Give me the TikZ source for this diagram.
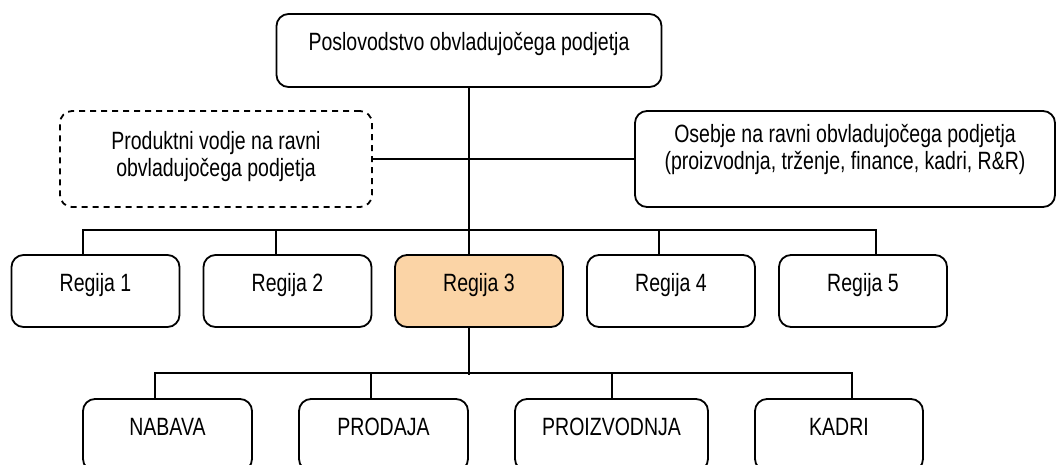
\documentclass[tikz,border=0pt]{standalone}
\usepackage{fontspec}
\newfontfamily\boxfont[FakeStretch=0.78]{Liberation Sans}
\definecolor{hilite}{RGB}{251,212,166}
\begin{document}
\begin{tikzpicture}[x=1pt,y=-1pt,
  box/.style={draw, line width=1.8pt, rounded corners=12pt, inner sep=0pt,
    font=\boxfont\fontsize{25}{27}\selectfont, text height=36pt},
  dashbox/.style={box, dash pattern=on 6pt off 5pt},
  wire/.style={line width=1.7pt}]
\useasboundingbox (0,0) rectangle (1057,464);
\clip (0,0) rectangle (1057,464);

% management of the holding company
\node[box, minimum width=385pt, minimum height=73pt, text depth=37pt]
  (top) at (469,50.5) {Poslovodstvo obvladujočega podjetja};

% staff boxes at the holding level
\node[dashbox, minimum width=312pt, minimum height=96pt, text height=38pt, text depth=58pt]
  (pm) at (216,159)
  {\begin{tabular}[t]{@{}c@{}}Produktni vodje na ravni\\obvladujočega podjetja\end{tabular}};
\node[box, minimum width=420pt, minimum height=96pt, text height=31pt, text depth=65pt]
  (staff) at (845,159)
  {\begin{tabular}[t]{@{}c@{}}Osebje na ravni obvladujočega podjetja\\(proizvodnja, trženje, finance, kadri, R\&R)\end{tabular}};

% regions
\node[box, minimum width=168pt, minimum height=72pt, text depth=36pt] (r1) at (95.5,291) {Regija 1};
\node[box, minimum width=168pt, minimum height=72pt, text depth=36pt] (r2) at (287.5,291) {Regija 2};
\node[box, minimum width=168pt, minimum height=72pt, text depth=36pt, fill=hilite] (r3) at (479,291) {Regija 3};
\node[box, minimum width=168pt, minimum height=72pt, text depth=36pt] (r4) at (671,291) {Regija 4};
\node[box, minimum width=168pt, minimum height=72pt, text depth=36pt] (r5) at (863,291) {Regija 5};

% departments of a region
\node[box, minimum width=169pt, minimum height=72pt, text depth=36pt] (nab) at (167.5,435) {NABAVA};
\node[box, minimum width=169pt, minimum height=72pt, text depth=36pt] (prod) at (383.5,435) {PRODAJA};
\node[box, minimum width=193pt, minimum height=72pt, text depth=36pt] (proi) at (611.5,435) {PROIZVODNJA};
\node[box, minimum width=168pt, minimum height=72pt, text depth=36pt] (kad) at (839,435) {KADRI};

% connectors
\draw[wire] (top.south) -- ([xshift=-10pt]r3.north);
\draw[wire] (pm.east) -- (staff.west);
\draw[wire] ([xshift=-12.5pt]r1.north) -- ++(0,-24) -| ([xshift=13pt]r5.north);
\draw[wire] ([xshift=-11.5pt]r2.north) -- ++(0,-24);
\draw[wire] ([xshift=-12pt]r4.north) -- ++(0,-24);

\draw[wire] ([xshift=-10pt]r3.south) -- ++(0,47);
\draw[wire] ([xshift=-12.5pt]nab.north) -- ++(0,-25) -| ([xshift=13pt]kad.north);
\draw[wire] ([xshift=-12.5pt]prod.north) -- ++(0,-25);
\draw[wire] ([xshift=0.5pt]proi.north) -- ++(0,-25);
\end{tikzpicture}
\end{document}
